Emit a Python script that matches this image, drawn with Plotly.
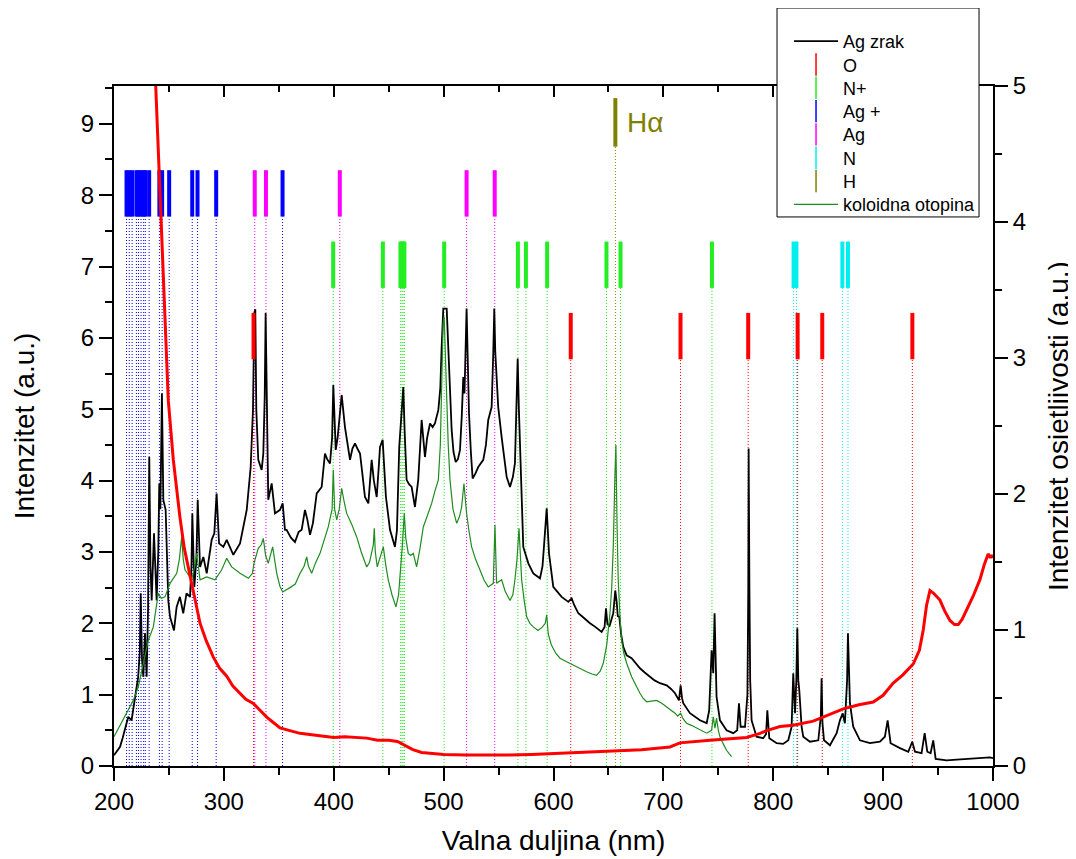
import plotly.graph_objects as go

# ---------------- data ----------------
ag_wl = [200, 203, 205.5, 208, 210, 213, 216, 219, 222, 223.5, 224.3, 225.5, 226.7, 228.2, 229.7, 231, 232.1, 233.2,
         234.3, 236.4, 238.8, 240.3, 241.2, 242.2, 243.6, 244.9, 247, 249.4, 251, 254.6, 257, 260, 263, 266, 269.2,
         270.5, 271.3, 273.1, 275, 276.2, 278.3, 281.3, 284.4, 288.9, 291.3, 293.4, 295.6, 299.5, 302.6, 308.6,
         314.7, 320.8, 324.4, 326.5, 327.7, 328.6, 329.5, 331.3, 334.4, 335.9, 337.2, 338.0, 339.0, 340.4, 343.5,
         346.5, 351.1, 353.5, 355.6, 357.1, 361, 364.7, 368, 370.8, 373.8, 376, 378.4, 381, 384.5, 389, 392, 394,
         396.6, 398.5, 399.6, 400.6, 401.8, 403.5, 404.8, 407.2, 410.2, 412.5, 414.8, 417, 419.3, 421.5, 423.9,
         426, 428.4, 431.5, 433, 434.5, 436.5, 439.1, 441, 442.1, 444.5, 445.6, 447.5, 451.2, 453.5, 455.7, 457.5,
         459.6, 461.5, 463.3, 464.5, 466.3, 468.5, 470.9, 473.9, 476.9, 480, 481.5, 483, 485, 487.6, 490, 492.1,
         495.2, 497, 498.2, 499.7, 502.8, 504.2, 505.8, 507.3, 509, 511, 513, 514.9, 516.5, 517.9, 519.0, 520.2,
         520.9, 521.8, 523.1, 524.8, 526.4, 529, 531.5, 536.1, 538.5, 540.6, 543.7, 545.2, 546.1, 547.0, 549.7,
         552.8, 555, 557.4, 560.4, 563, 564.9, 566.3, 567.4, 568.5, 569.5, 571, 572.5, 577.1, 581.6, 587.7, 590,
         591.3, 593.8, 595.9, 599.8, 603, 607.4, 613.5, 616.5, 619, 622.6, 628, 633.2, 638, 643.8, 646.5, 647.8,
         649, 650.8, 654.4, 656.2, 657.5, 658.5, 659.9, 661.5, 663.5, 666.6, 671.1, 675, 678.7, 683, 687.8, 692,
         696.9, 703, 707, 710.6, 714.2, 715.7, 717, 718.1, 724.2, 733.3, 739.4, 741.7, 743.9, 745.4, 746.6, 747.5,
         748.4, 751.5, 757.5, 763.6, 767.2, 768.8, 770.3, 774.3, 776.5, 777.3, 777.6, 778.3, 779.0, 780.3, 784.8,
         790.9, 793.5, 794.6, 796.4, 803.1, 809, 813.7, 816.7, 818.2, 819.8, 821.0, 821.9, 822.8, 823.7, 825.8,
         827.3, 833.4, 841, 843.3, 844, 844.8, 846.2, 851.6, 857.7, 860.7, 863.2, 865.2, 867.2, 868, 869.0, 869.8,
         872.8, 878.9, 888, 897.1, 901.6, 904.1, 906.8, 915.3, 922.9, 926.5, 929, 935, 937.8, 940.2, 943.2, 945.6,
         947.8, 957.8, 967, 976, 987, 997.2, 1000]
ag_int = [0.15, 0.22, 0.27, 0.40, 0.53, 0.69, 0.64, 0.92, 1.25, 1.6, 2.42, 1.5, 1.25, 1.86, 1.25, 2.2, 4.33, 2.8,
          2.32, 3.26, 2.32, 3.0, 3.96, 3.6, 5.22, 3.73, 3.59, 2.32, 2.09, 1.9, 2.23, 2.37, 2.14, 2.42, 2.37,
          2.8, 3.54, 2.51, 2.9, 3.73, 2.79, 2.93, 2.70, 3.17, 3.26, 3.82, 3.12, 3.07, 3.17, 2.96,
          3.12, 3.59, 4.19, 5.0, 6.35, 6.4, 5.0, 4.29, 4.15, 4.38, 5.2, 6.35, 5.0, 3.73, 3.96,
          3.54, 3.59, 3.68, 3.31, 3.31, 3.20, 3.14, 3.28, 3.31, 3.59, 3.45, 3.24, 3.4, 3.82, 3.91, 4.38, 4.3,
          4.24, 4.6, 5.34, 4.8, 4.43, 4.6, 4.85, 5.20, 4.75, 4.5, 4.29, 4.45, 4.52, 4.45, 4.38,
          4.1, 3.77, 3.68, 4.0, 4.29, 4.0, 3.77, 4.2, 4.47, 4.57, 4.2, 3.77, 3.31, 3.2, 3.07, 3.3,
          4.47, 4.9, 5.31, 4.7, 4.01, 3.95, 3.91, 3.63, 4.01, 4.85, 4.6, 4.33, 4.6, 4.80, 4.75, 4.80,
          4.99, 5.3, 5.87, 6.41, 6.41, 5.87, 5.2, 4.71, 4.4, 4.26, 4.3, 4.43, 4.9, 5.45, 5.22, 5.8,
          6.41, 5.8, 4.94, 4.4, 4.03, 4.1, 4.19, 4.29, 4.5, 4.85, 5.03, 5.8, 6.41, 5.8, 5.03,
          4.61, 4.3, 4.05, 3.91, 4.05, 4.24, 4.9, 5.71, 5.0, 4.47, 3.6, 3.07, 2.84, 2.70, 2.63, 2.8,
          3.07, 3.61, 2.98, 2.51, 2.45, 2.37, 2.30, 2.35, 2.25, 2.14, 2.07, 2.0, 1.95, 1.88, 1.95, 2.21,
          2.0, 1.95, 2.14, 2.46, 2.3, 2.1, 2.09, 1.85, 1.67, 1.55, 1.51, 1.43, 1.37, 1.31, 1.25, 1.2,
          1.16, 1.13, 1.08, 1.02, 0.92, 1.13, 0.95, 0.88, 0.74, 0.64, 0.60, 0.78, 1.62, 1.30, 2.14, 1.3,
          0.97, 0.64, 0.50, 0.46, 0.50, 0.88, 0.55, 0.55, 1.0, 2.5, 4.45, 2.5, 1.2, 0.64, 0.41,
          0.39, 0.45, 0.78, 0.39, 0.32, 0.31, 0.36, 0.55, 1.30, 0.74, 1.2, 1.93, 1.2, 1.06, 0.55,
          0.41, 0.34, 0.36, 0.7, 1.23, 0.6, 0.36, 0.29, 0.46, 0.64, 0.74, 0.60, 1.2, 1.86, 1.1, 0.88,
          0.55, 0.36, 0.32, 0.34, 0.41, 0.64, 0.32, 0.25, 0.20, 0.34, 0.20, 0.18, 0.46, 0.20, 0.18, 0.36,
          0.10, 0.08, 0.09, 0.10, 0.11, 0.12, 0.11]

kol_wl = [200, 205.5, 211.5, 217.6, 222.1, 226.7, 231.2, 235.8, 240.3, 243, 246.4, 251, 257.1, 259.5, 261.6, 263,
          264.6, 270.7, 273.5, 275.3, 278.3, 284.4, 291.9, 298, 302.6, 307.1, 314.7, 322.3, 326, 327.4, 331.3, 334,
          335.9, 338, 340.4, 344.4, 348.1, 351, 353.5, 360.2, 365, 369.3, 373, 375.4, 377, 379.9, 383.5, 387.5, 391,
          395, 398.5, 399.6, 400.8, 402.7, 405, 407.2, 409.5, 411.8, 416, 420.9, 425, 430, 432.5, 434.5, 436, 436.9,
          437.8, 439.6, 442.5, 445.1, 447.5, 449.6, 453, 456.6, 459, 460.9, 462.5, 464.2, 465.5, 467.8, 470, 472.4,
          475.4, 478.5, 481.5, 485, 489.1, 492, 495.2, 497, 498.2, 499.5, 500.5, 501.5, 502.8, 504.2, 505.8, 508.5,
          511.9, 514.5, 516.4, 518.5, 520.9, 523, 525.5, 529, 533, 537, 540.6, 545.2, 546.7, 547.5, 548.2, 552.8,
          556, 560.4, 563, 564.9, 566.8, 568.6, 570, 571, 573.5, 575.6, 578.5, 581.6, 586, 590, 592.5, 593.8, 595.2,
          598, 602, 605.9, 612, 618, 624, 630.1, 635, 639.2, 642.5, 645.3, 648.5, 651.4, 653, 654.4, 655.8, 656.8,
          657.8, 658.9, 660.5, 662, 664, 666.6, 671.1, 675, 678.7, 681.5, 684.8, 689, 693.8, 698.5, 703, 707, 710.6,
          713, 715.7, 718, 721.1, 725.5, 730.2, 735, 739.4, 743.9, 745.4, 746.9, 748.4, 750, 751.5, 754.5, 757.5,
          760, 762.1]
kol_int = [0.41, 0.57, 0.76, 0.92, 1.11, 1.44, 1.76, 1.95, 2.42, 2.35, 2.37, 2.56, 2.70, 2.9, 3.21, 2.9,
           2.75, 2.61, 2.8, 2.98, 2.61, 2.65, 2.61, 2.75, 2.91, 2.79, 2.70, 2.63, 2.7, 2.84, 3.05, 3.1,
           3.19, 2.95, 2.84, 3.07, 2.70, 2.52, 2.44, 2.50, 2.55, 2.70, 2.8, 2.93, 2.8, 2.70, 2.85, 2.98, 3.15,
           3.35, 3.6, 4.15, 3.6, 3.45, 3.6, 3.89, 3.7, 3.54, 3.4, 3.21, 3.0, 2.79, 2.85, 2.98, 3.1, 3.33,
           3.0, 2.79, 2.95, 3.07, 2.8, 2.61, 2.4, 2.23, 2.4, 2.75, 3.1, 3.54, 3.2, 2.98, 2.95, 2.98,
           2.79, 3.05, 3.35, 3.5, 3.68, 3.85, 4.01, 4.5, 5.17, 6.2, 6.3, 5.9, 5.17, 4.5, 4.01, 3.6,
           3.40, 3.5, 3.63, 3.96, 3.54, 3.3, 3.07, 2.9, 2.75, 2.6, 2.51, 2.56, 3.38, 2.6, 2.56, 2.61,
           2.45, 2.32, 2.4, 2.61, 2.9, 3.33, 2.9, 2.61, 2.3, 2.09, 2.0, 1.95, 1.9, 1.95, 2.0, 2.12, 1.85,
           1.70, 1.58, 1.51, 1.46, 1.41, 1.36, 1.32, 1.29, 1.27, 1.33, 1.44, 1.7, 2.14, 2.5, 3.07, 4.0, 4.50,
           3.4, 2.61, 2.1, 1.76, 1.58, 1.44, 1.25, 1.12, 1.02, 0.95, 0.90, 0.91, 0.92, 0.88, 0.83, 0.79, 0.74,
           0.70, 0.74, 0.66, 0.60, 0.57, 0.53, 0.49, 0.46, 0.50, 0.69, 0.53, 0.67, 0.5, 0.41, 0.31, 0.22,
           0.17, 0.13]

sens_wl = [236, 238, 240.3, 243, 246, 249.4, 254, 260, 264, 269.2, 274, 278.3, 284, 290.4, 296, 302.6, 308, 314.7,
           320, 326.8, 333, 339, 345, 351.1, 360, 369.3, 380, 390, 400, 410, 420, 430, 440, 450, 458, 465, 472, 480,
           490, 500, 520, 540, 560, 580, 605.9, 630, 654.4, 680, 706, 715.1, 742.4, 760, 775.8, 788, 794, 806.1,
           818.2, 836.4, 848.6, 863.7, 878, 891, 900, 909.2, 918, 927.4, 933, 936.5, 939.5, 942.6, 946, 951.7, 956,
           960.8, 965, 968.4, 972, 976, 982, 988.1, 992, 995.7, 997.5, 998.7, 1000]
sens_val = [5.4, 5.0, 4.52, 4.0, 3.3, 2.69, 2.25, 1.83, 1.6, 1.39, 1.2, 1.05, 0.92, 0.80, 0.72, 0.66, 0.59, 0.53,
            0.49, 0.46, 0.41, 0.36, 0.32, 0.28, 0.26, 0.24, 0.23, 0.22, 0.21, 0.215, 0.21, 0.205, 0.19, 0.19, 0.18,
            0.15, 0.12, 0.10, 0.09, 0.085, 0.08, 0.078, 0.08, 0.085, 0.093, 0.10, 0.11, 0.12, 0.14, 0.17, 0.19, 0.20,
            0.21, 0.24, 0.26, 0.29, 0.30, 0.33, 0.37, 0.42, 0.45, 0.47, 0.52, 0.61, 0.67, 0.75, 0.85, 1.00, 1.18,
            1.29, 1.27, 1.22, 1.14, 1.07, 1.04, 1.04, 1.08, 1.15, 1.25, 1.37, 1.48, 1.56, 1.53, 1.55, 1.53]

# emission line positions (nm)
lines_O = [327.0, 615.7, 715.6, 777.2, 822.2, 844.6, 926.6]
lines_Nplus = [399.5, 444.7, 460.7, 462.1, 463.0, 464.3, 500.5, 567.6, 574.9, 594.2, 648.2, 661.0, 744.2]
lines_Agplus = [211.4, 213.9, 216.5, 220.4, 222.3, 224.6, 227.0, 228.5, 232.0, 241.3, 243.8, 250.2, 271.2, 276.0,
                293.0, 353.4]
lines_Ag = [328.1, 338.3, 405.5, 520.9, 546.5]
lines_N = [818.5, 821.1, 862.9, 868.0]
lines_H = [656.3]

# ---------------- styling ----------------
FONT = "Liberation Sans, Arial, sans-serif"
elements = [
    # name, positions, colour, (low, high) marker band on left axis
    ("O", lines_O, "#FF0000", (5.7, 6.35)),
    ("N+", lines_Nplus, "#22EE22", (6.7, 7.35)),
    ("Ag +", lines_Agplus, "#0000FF", (7.7, 8.35)),
    ("Ag", lines_Ag, "#FF00FF", (7.7, 8.35)),
    ("N", lines_N, "#00EEEE", (6.7, 7.35)),
    ("H", lines_H, "#808000", (8.68, 9.36)),
]
# one legend per row so that rows sit 23.3 px apart with 18 px text
FIG_W, FIG_H = 1068, 851
LEG_X = 0.7313
ROW0, ROW_STEP = 15.0, 23.3         # top of first legend row box (figure px), row pitch
legend_ids = ["legend"] + ["legend%d" % k for k in range(2, 9)]

fig = go.Figure()

# dotted guide lines (drawn first, behind spectra)
for name, pos, col, (lo, hi) in elements:
    xs, ys = [], []
    for p in pos:
        xs += [p, p, None]
        ys += [0, lo, None]
    fig.add_trace(go.Scatter(x=xs, y=ys, mode="lines", showlegend=False, hoverinfo="skip",
                             line=dict(color=col, width=1, dash="1px,2px")))

fig.add_trace(go.Scatter(x=ag_wl, y=ag_int, mode="lines", name="Ag zrak", legend=legend_ids[0],
                         line=dict(color="black", width=1.8)))
fig.add_trace(go.Scatter(x=kol_wl, y=kol_int, mode="lines", name="koloidna otopina", legend=legend_ids[7],
                         line=dict(color="#1E8C1E", width=1.2)))
fig.add_trace(go.Scatter(x=sens_wl, y=sens_val, mode="lines", yaxis="y2", showlegend=False,
                         line=dict(color="#FF0000", width=3)))

# thick marker segments + legend-only symbols
for i, (name, pos, col, (lo, hi)) in enumerate(elements):
    xs, ys = [], []
    for p in pos:
        xs += [p, p, None]
        ys += [lo, hi, None]
    fig.add_trace(go.Scatter(x=xs, y=ys, mode="lines", showlegend=False, hoverinfo="skip",
                             line=dict(color=col, width=4)))
    fig.add_trace(go.Scatter(x=[None], y=[None], mode="markers", name=name, legend=legend_ids[i + 1],
                             marker=dict(symbol="line-ns", size=16, color=col,
                                         line=dict(width=1.5, color=col))))

# invisible trace to carry the top axis
fig.add_trace(go.Scatter(x=[None], y=[None], xaxis="x2", showlegend=False, hoverinfo="skip"))

fig.add_annotation(x=665, y=9.02, xref="x", yref="y", text="Hα", showarrow=False,
                   xanchor="left", yanchor="middle", font=dict(family=FONT, size=28, color="#808000"))

# right-hand axis title
fig.add_annotation(x=1.074, y=0.5, xref="paper", yref="paper", text="Intenzitet osjetljivosti (a.u.)",
                   textangle=-90, showarrow=False, xanchor="center", yanchor="middle",
                   font=dict(family=FONT, size=28, color="black"))

# legend frame
fig.add_shape(type="rect", xref="paper", yref="paper", x0=0.7543, x1=0.9841, y0=0.8074, y1=1.1147,
              line=dict(color="black", width=1), fillcolor="white", layer="above")

tick_font = dict(family=FONT, size=24, color="black")
title_font = dict(family=FONT, size=28, color="black")
axis_common = dict(showline=True, linecolor="black", linewidth=2, showgrid=False, zeroline=False,
                   ticks="outside", tickcolor="black", tickwidth=2, ticklen=13, tickfont=tick_font,
                   automargin=True)
minor_out = dict(ticks="outside", ticklen=7, tickwidth=2, tickcolor="black")

legends = {}
for k, lid in enumerate(legend_ids):
    legends[lid] = dict(xref="container", yref="container", x=LEG_X,
                        y=1 - (ROW0 + k * ROW_STEP) / FIG_H, xanchor="left", yanchor="top",
                        bgcolor="rgba(0,0,0,0)", borderwidth=0, itemwidth=44,
                        font=dict(family=FONT, size=18, color="black"))

# page body has an 8px margin, so the figure is 8px smaller than the window
fig.update_layout(
    width=FIG_W, height=FIG_H,
    margin=dict(l=106, r=83, t=78, b=93, autoexpand=False),
    paper_bgcolor="white", plot_bgcolor="white",
    font=dict(family=FONT, color="black"),
    xaxis=dict(range=[200, 1000], dtick=100, tick0=200, minor=dict(dtick=50, **minor_out),
               title=dict(text="Valna duljina (nm)", font=title_font, standoff=17), **axis_common),
    xaxis2=dict(range=[200, 1000], overlaying="x", side="top", showticklabels=False, showline=True,
                linecolor="black", linewidth=2, showgrid=False, zeroline=False, ticks="inside",
                tickcolor="black", tickwidth=2, ticklen=11, dtick=100, tick0=200,
                minor=dict(dtick=50, ticks="inside", ticklen=6, tickwidth=2, tickcolor="black")),
    yaxis=dict(range=[0, 9.53], dtick=1, tick0=0, minor=dict(dtick=0.5, **minor_out),
               title=dict(text="Intenzitet (a.u.)", font=title_font, standoff=38), **axis_common),
    yaxis2=dict(range=[0, 5], dtick=1, tick0=0, overlaying="y", side="right",
                minor=dict(dtick=0.5, **minor_out), **axis_common),
    showlegend=True,
    **legends,
)

fig.write_html("out.html")
